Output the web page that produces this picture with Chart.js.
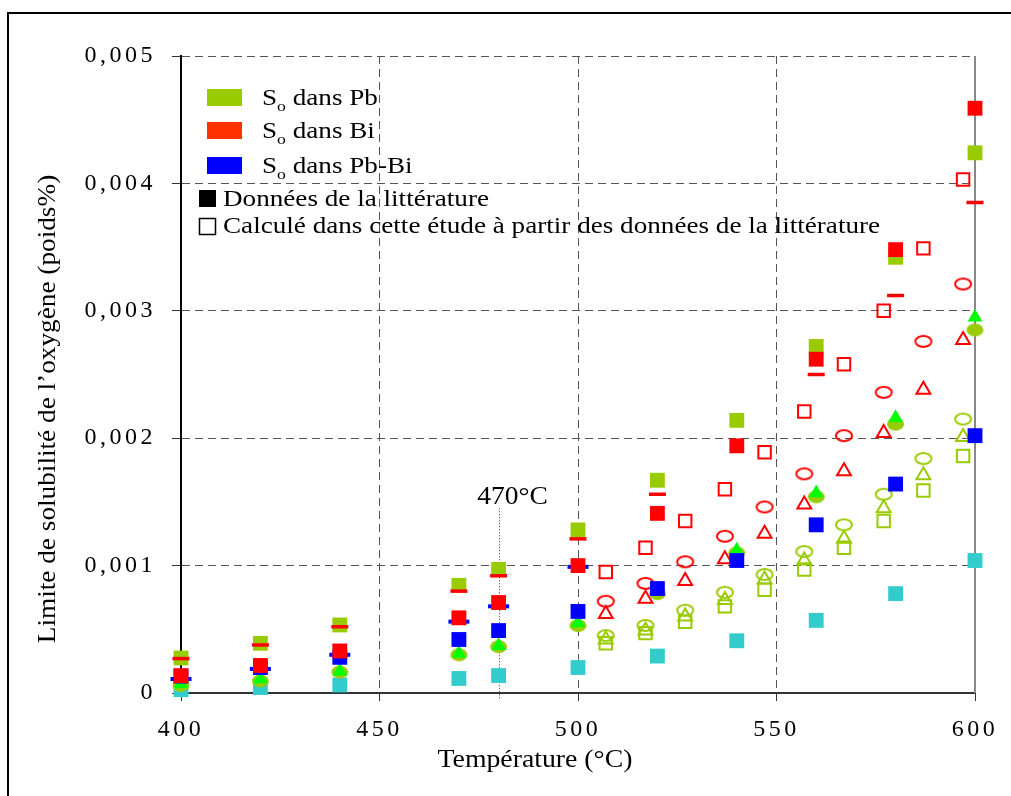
<!DOCTYPE html>
<html>
<head>
<meta charset="utf-8">
<script src="https://cdn.jsdelivr.net/npm/chart.js@4/dist/chart.umd.min.js"></script>
<style>
  body { margin: 0; background: #fff; }
  canvas { display: block; }
</style>
</head>
<body>
<canvas id="chart" width="1011" height="796"></canvas>
<script>
// temperatures (°C)
var tempLit = [400, 420, 440, 470, 480, 500, 520, 540, 560, 580, 600];
var tempCalc = [507, 517, 527, 537, 547, 557, 567, 577, 587, 597];

// literature values (poids%)
var litPb = [0.000275, 0.00039, 0.000534, 0.000845, 0.00097, 0.00128, 0.00167, 0.00214, 0.00272, 0.00342, 0.00424];
var litBi = [0.000136, 0.000216, 0.00033, 0.00059, 0.00071, 0.001, 0.00141, 0.00194, 0.00262, 0.00348, 0.00459];
var litBiDash = [0.00027, 0.000377, 0.00052, 0.0008, 0.00092, 0.00121, 0.00156, null, 0.0025, 0.00312, 0.00385];
var litPbBi = [0.000133, 0.0002, 0.00028, 0.00042, 0.00049, 0.00064, 0.00082, 0.00104, 0.00132, 0.00164, 0.00202];
var litPbBiDash = [0.00011, 0.000189, 0.0003, 0.00056, 0.00068, 0.00099, null, null, null, null, null];
var litCyan = [0.000026, 0.000043, 0.000063, 0.000114, 0.000137, 0.0002, 0.00029, 0.00041, 0.00057, 0.00078, 0.00104];
var litPbCircle = [0.00006, 0.000095, 0.000165, 0.0003, 0.000364, 0.00053, 0.00078, 0.0011, 0.00154, 0.00211, 0.00285];
var litPbTri = [0.00007, 0.00011, 0.00017, 0.00031, 0.00037, 0.00055, 0.0008, 0.00112, 0.00157, 0.00216, 0.00295];

// calculated in this study
var calcBiSquare = [0.00095, 0.00114, 0.00135, 0.0016, 0.00189, 0.00221, 0.00258, 0.003, 0.00349, 0.00403];
var calcBiCircle = [0.00072, 0.00086, 0.00103, 0.00123, 0.00146, 0.00172, 0.00202, 0.00236, 0.00276, 0.00321];
var calcBiTri = [0.00062, 0.00074, 0.00088, 0.00105, 0.00125, 0.00148, 0.00174, 0.00204, 0.00238, 0.00277];
var calcPbCircle = [0.00045, 0.00053, 0.00065, 0.00079, 0.00093, 0.00111, 0.00132, 0.00156, 0.00184, 0.00215];
var calcPbTri = [0.00042, 0.00049, 0.0006, 0.00073, 0.00089, 0.00104, 0.00121, 0.00145, 0.00171, 0.00201];
var calcPbSquare = [0.00039, 0.00047, 0.00056, 0.00068, 0.00081, 0.00097, 0.00114, 0.00135, 0.00159, 0.00186];

// axis ticks
var xTicks = [400, 450, 500, 550, 600];
var yTicks = [0, 0.001, 0.002, 0.003, 0.004, 0.005];

var legendItems = ["dans Pb", "dans Bi", "dans Pb-Bi"];
var legendColors = ["#99CC00", "#FF3300", "#0000FF"];
var markerTemp = 480;
var markerLabel = "470°C";

var SERIF = "'Liberation Serif', 'Times New Roman', serif";

function pts(xs, ys) {
    var out = [];
    for (let i = 0; i < xs.length; i++) {
        if (ys[i] !== null) out.push({x: xs[i], y: ys[i]});
    }
    return out;
}

// small ellipse markers (the circles in the original are a bit flattened)
function ellipse(w, h, color, filled) {
    var c = document.createElement("canvas");
    c.width = w + 4; c.height = h + 4;
    var g = c.getContext("2d");
    g.beginPath();
    g.ellipse(c.width / 2, c.height / 2, w / 2, h / 2, 0, 0, Math.PI * 2);
    if (filled) { g.fillStyle = color; g.fill(); }
    else { g.strokeStyle = color; g.lineWidth = 2; g.stroke(); }
    return c;
}

function ds(data, style, radius, fill, border, bw) {
    return {
        data: data,
        pointStyle: style,
        pointRadius: radius,
        pointHoverRadius: radius,
        backgroundColor: fill,
        borderColor: border,
        borderWidth: bw,
        showLine: false,
        clip: false
    };
}

// first dataset is drawn on top
var datasets = [
    ds(pts(tempLit, litBiDash), "line", 8.5, "#FF0000", "#FF0000", 3.5),
    ds(pts(tempLit, litBi), "rect", 10.5, "#FF0000", "#FF0000", 0),
    ds(pts(tempLit, litPbBi), "rect", 10.5, "#0000FF", "#0000FF", 0),
    ds(pts(tempLit, litPbBiDash), "line", 10.5, "#0000FF", "#0000FF", 4),
    ds(pts(tempLit, litPbTri), "triangle", 8.5, "#00FF00", "#00FF00", 0),
    ds(pts(tempLit, litPbCircle), ellipse(17, 13, "#99CC00", true), 8, "#99CC00", "#99CC00", 0),
    ds(pts(tempLit, litPb), "rect", 10.5, "#99CC00", "#99CC00", 0),
    ds(pts(tempLit, litCyan), "rect", 10.5, "#33CCCC", "#33CCCC", 0),
    ds(pts(tempCalc, calcBiSquare), "rect", 8.8, "transparent", "#FF0000", 2),
    ds(pts(tempCalc, calcBiCircle), ellipse(16, 11, "#FF0000", false), 8, "transparent", "#FF0000", 2),
    ds(pts(tempCalc, calcBiTri), "triangle", 8, "transparent", "#FF0000", 2),
    ds(pts(tempCalc, calcPbCircle), ellipse(16, 11, "#99CC00", false), 8, "transparent", "#99CC00", 2),
    ds(pts(tempCalc, calcPbTri), "triangle", 8, "transparent", "#99CC00", 2),
    ds(pts(tempCalc, calcPbSquare), "rect", 8.8, "transparent", "#99CC00", 2)
];

// text stretched sideways like in the original picture
function wideText(ctx, text, x, y, sx) {
    ctx.save();
    ctx.translate(x, y);
    ctx.scale(sx, 1);
    ctx.fillText(text, 0, 0);
    ctx.restore();
    return ctx.measureText(text).width * sx;
}

var decor = {
    id: "decor",
    beforeDraw: function (chart) {
        chart.ctx.letterSpacing = "3.5px";   // spaced tick digits like the original
    },
    beforeDatasetsDraw: function (chart) {
        var ctx = chart.ctx, a = chart.chartArea;
        var xs = chart.scales.x, ys = chart.scales.y;
        ctx.letterSpacing = "0px";
        ctx.save();
        // right frame of the plot
        ctx.strokeStyle = "#888";
        ctx.lineWidth = 2;
        ctx.beginPath();
        ctx.moveTo(a.right, a.top);
        ctx.lineTo(a.right, a.bottom);
        ctx.stroke();
        // 470°C marker
        var mx = Math.round(xs.getPixelForValue(markerTemp)) + 0.5;
        ctx.strokeStyle = "#333";
        ctx.lineWidth = 1;
        ctx.setLineDash([1, 2]);
        ctx.beginPath();
        ctx.moveTo(mx, ys.getPixelForValue(0.00145));
        ctx.lineTo(mx, a.bottom + 6);
        ctx.stroke();
        ctx.setLineDash([]);
        ctx.fillStyle = "#000";
        ctx.font = "25px " + SERIF;
        ctx.textAlign = "center";
        ctx.textBaseline = "alphabetic";
        wideText(ctx, markerLabel, mx + 13, ys.getPixelForValue(0.00148), 1.1);
        ctx.restore();
    },
    afterDraw: function (chart) {
        var ctx = chart.ctx;
        ctx.save();
        ctx.letterSpacing = "0px";
        ctx.fillStyle = "#000";
        // outer frame
        ctx.fillRect(7, 12, 2, 784);
        ctx.fillRect(7, 12, 1004, 2);

        // axis titles
        ctx.font = "25px " + SERIF;
        ctx.textAlign = "center";
        ctx.textBaseline = "middle";
        wideText(ctx, "Température (°C)", 535, 760, 1.11);
        ctx.save();
        ctx.translate(48, 409);
        ctx.rotate(-Math.PI / 2);
        wideText(ctx, "Limite de solubilité de l\u2019oxygène (poids%)", 0, 0, 1.09);
        ctx.restore();

        // legend
        ctx.textAlign = "left";
        ctx.textBaseline = "alphabetic";
        var sx = 1.18;
        var base = [105, 138, 173];
        for (let i = 0; i < legendItems.length; i++) {
            ctx.fillStyle = legendColors[i];
            ctx.fillRect(207, base[i] - 16, 35, 17);
            ctx.fillStyle = "#000";
            ctx.font = "23px " + SERIF;
            var x = 262;
            x += wideText(ctx, "S", x, base[i], sx);
            ctx.font = "15px " + SERIF;
            x += wideText(ctx, "o", x, base[i] + 6, sx);
            ctx.font = "23px " + SERIF;
            wideText(ctx, " " + legendItems[i], x, base[i], sx);
        }
        ctx.font = "23px " + SERIF;
        ctx.fillRect(199, 190, 17, 17);
        wideText(ctx, "Données de la littérature", 223, 206, sx);
        ctx.strokeStyle = "#000";
        ctx.lineWidth = 1.5;
        ctx.strokeRect(199.5, 218.5, 16, 16);
        wideText(ctx, "Calculé dans cette étude à partir des données de la littérature", 223, 233, sx);
        ctx.restore();
    }
};

var ctx = document.getElementById("chart").getContext("2d");
var chart = new Chart(ctx, {
    type: "scatter",
    data: { datasets: datasets },
    options: {
        responsive: false,
        animation: false,
        events: [],
        layout: { padding: { top: 56, right: 36, bottom: 0, left: 0 } },
        plugins: { legend: { display: false }, tooltip: { enabled: false } },
        scales: {
            x: {
                type: "linear",
                min: 400, max: 600,
                afterFit: function (s) { s.height = 103; },
                afterBuildTicks: function (s) { s.ticks = xTicks.map(v => ({value: v})); },
                ticks: {
                    color: "#000",
                    padding: 14,
                    maxRotation: 0,
                    font: { family: SERIF, size: 24 }
                },
                grid: { color: "#555", lineWidth: 1, tickLength: 8, tickColor: "#333", tickBorderDash: [] },
                border: { color: "#333", width: 2, dash: [8, 5] }
            },
            y: {
                type: "linear",
                min: 0, max: 0.005,
                afterFit: function (s) { s.width = 181; },
                afterBuildTicks: function (s) { s.ticks = yTicks.map(v => ({value: v})); },
                ticks: {
                    color: "#000",
                    padding: 16,
                    font: { family: SERIF, size: 24 },
                    callback: function (v) { return v === 0 ? "0" : v.toFixed(3).replace(".", ","); }
                },
                grid: { color: "#555", lineWidth: 1, tickLength: 9, tickColor: "#333", tickBorderDash: [] },
                border: { color: "#000", width: 2, dash: [8, 5] }
            }
        }
    },
    plugins: [decor]
});
</script>
</body>
</html>
